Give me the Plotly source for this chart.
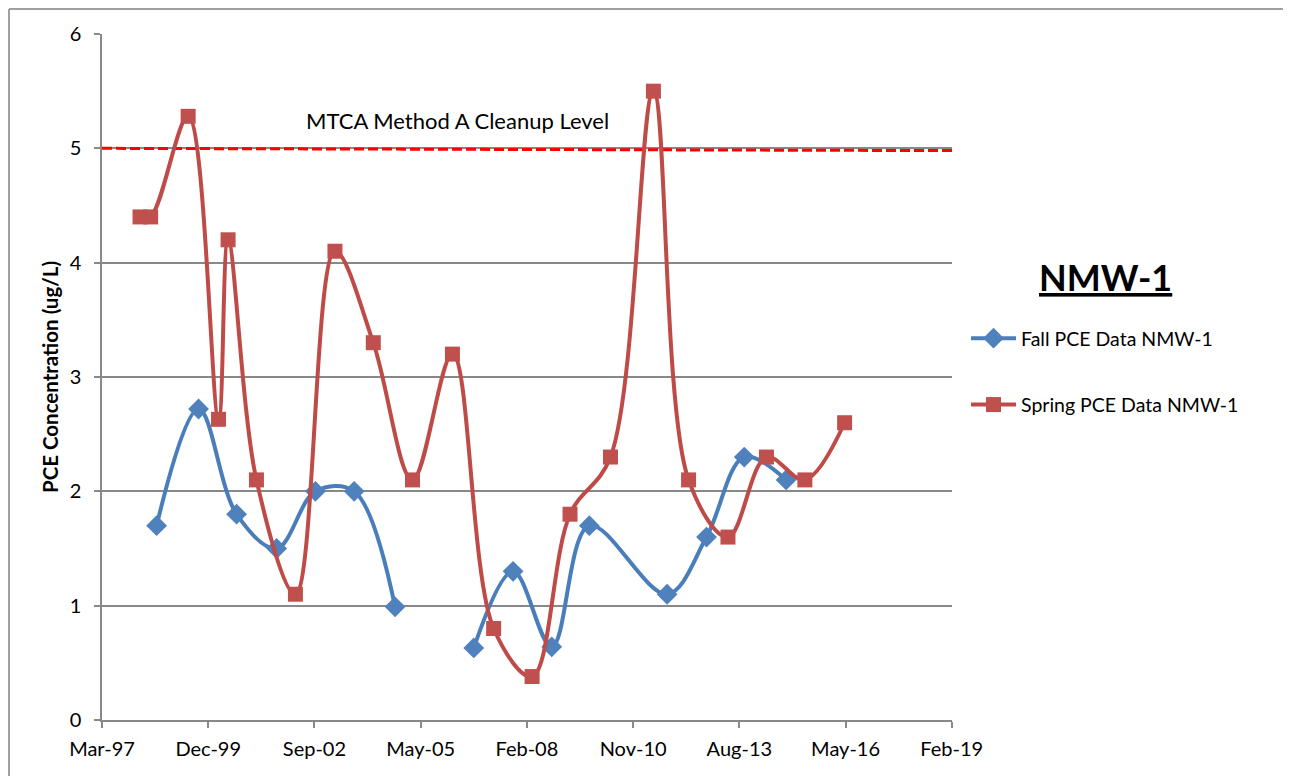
import plotly.graph_objects as go

# ---- data ----
fall_dates = ["1998-08-07", "1999-09-06", "2000-08-29", "2001-09-10", "2002-09-10",
              "2003-09-10", "2004-09-29", "2005-09-30", "2006-10-10", "2007-10-15",
              "2008-10-13", "2009-10-02", "2011-10-04", "2012-10-09", "2013-09-29",
              "2014-10-28"]
fall_pce = [1.7, 2.72, 1.8, 1.5, 2.0, 2.0, 0.99, None, 0.63, 1.3, 0.64, 1.7, 1.1, 1.6, 2.3, 2.1]

spring_dates = ["1998-03-04", "1998-06-12", "1999-05-31", "2000-03-12", "2000-06-10",
                "2001-03-04", "2002-03-06", "2003-03-13", "2004-03-08", "2005-03-12",
                "2006-03-23", "2007-04-15", "2008-04-11", "2009-04-03", "2010-04-19",
                "2011-05-28", "2012-04-23", "2013-04-29", "2014-04-26", "2015-04-23",
                "2016-05-01"]
spring_pce = [4.4, 4.4, 5.28, 2.63, 4.2, 2.1, 1.1, 4.1, 3.3, 2.1, 3.2, 0.8, 0.38,
              1.8, 2.3, 5.5, 2.1, 1.6, 2.3, 2.1, 2.6]

cleanup_dates = ["1997-03-11", "2019-02-06"]
cleanup_level = [5.0, 4.98]

x_range = ["1997-03-11", "2019-02-06"]
y_range = [0, 6]

FONT = "Lato"
GRID = "#888888"

fig = go.Figure()

fig.add_trace(go.Scatter(
    x=cleanup_dates, y=cleanup_level, mode="lines", showlegend=False,
    line=dict(color="#FF0000", width=3, dash="10px,4px"), hoverinfo="skip"))

fig.add_trace(go.Scatter(
    x=fall_dates, y=fall_pce, mode="lines+markers", name="Fall PCE Data NMW-1",
    connectgaps=False, legendgroup="fall",
    line=dict(color="#4A7EBB", width=4, shape="spline", smoothing=1.0),
    marker=dict(symbol="diamond", size=16, color="#4F81BD")))

fig.add_trace(go.Scatter(
    x=spring_dates, y=spring_pce, mode="lines+markers", name="Spring PCE Data NMW-1",
    legendgroup="spring",
    line=dict(color="#BE4B48", width=4, shape="spline", smoothing=1.0),
    marker=dict(symbol="square", size=15, color="#C0504D")))

fig.add_annotation(x="2006-05-05", y=5.24, xref="x", yref="y",
                   text="MTCA Method A Cleanup Level", showarrow=False,
                   xanchor="center", yanchor="middle",
                   font=dict(family=FONT, size=22, color="#000000"))

fig.add_annotation(x=1.181, y=0.646, xref="paper", yref="paper",
                   text="<b><u>NMW-1</u></b>", showarrow=False,
                   xanchor="center", yanchor="middle",
                   font=dict(family=FONT, size=36, color="#000000"))

# outer chart border (top and left edges visible in the frame)
fig.add_shape(type="line", xref="paper", yref="paper",
              x0=-0.1094, x1=1.6, y0=1.0364, y1=1.0364,
              line=dict(color="#A0A0A0", width=2), layer="below")
fig.add_shape(type="line", xref="paper", yref="paper",
              x0=-0.1094, x1=-0.1094, y0=-0.2, y1=1.0364,
              line=dict(color="#A0A0A0", width=2), layer="below")

fig.update_layout(
    width=1283, height=768,
    margin=dict(l=94, r=339, t=26, b=56),
    paper_bgcolor="white", plot_bgcolor="white",
    font=dict(family=FONT, size=19, color="#000000"),
    showlegend=True,
    legend=dict(x=1.0165, y=0.5845, xanchor="left", yanchor="top",
                traceorder="grouped", tracegroupgap=38, itemwidth=45,
                font=dict(family=FONT, size=19.5, color="#000000"),
                bgcolor="rgba(0,0,0,0)"),
    xaxis=dict(type="date", range=x_range, tick0="1997-03-11",
               dtick=1000 * 86400000, tickformat="%b-%y",
               showgrid=False, showline=True, linecolor=GRID, linewidth=1.5,
               ticks="outside", ticklen=6, tickcolor=GRID, tickwidth=1.5,
               ticklabelstandoff=4, zeroline=False,
               tickfont=dict(family=FONT, size=20, color="#000000")),
    yaxis=dict(range=y_range, dtick=1, showgrid=True, gridcolor=GRID, gridwidth=1.5,
               showline=True, linecolor=GRID, linewidth=1.5, zeroline=False,
               ticks="outside", ticklen=6, tickcolor=GRID, tickwidth=1.5,
               ticklabelstandoff=9,
               tickfont=dict(family=FONT, size=20, color="#000000"),
               title=dict(text="<b>PCE Concentration (ug/L)</b>", standoff=5,
                          font=dict(family=FONT, size=20.5, color="#000000"))),
)

fig.write_html("out.html")
